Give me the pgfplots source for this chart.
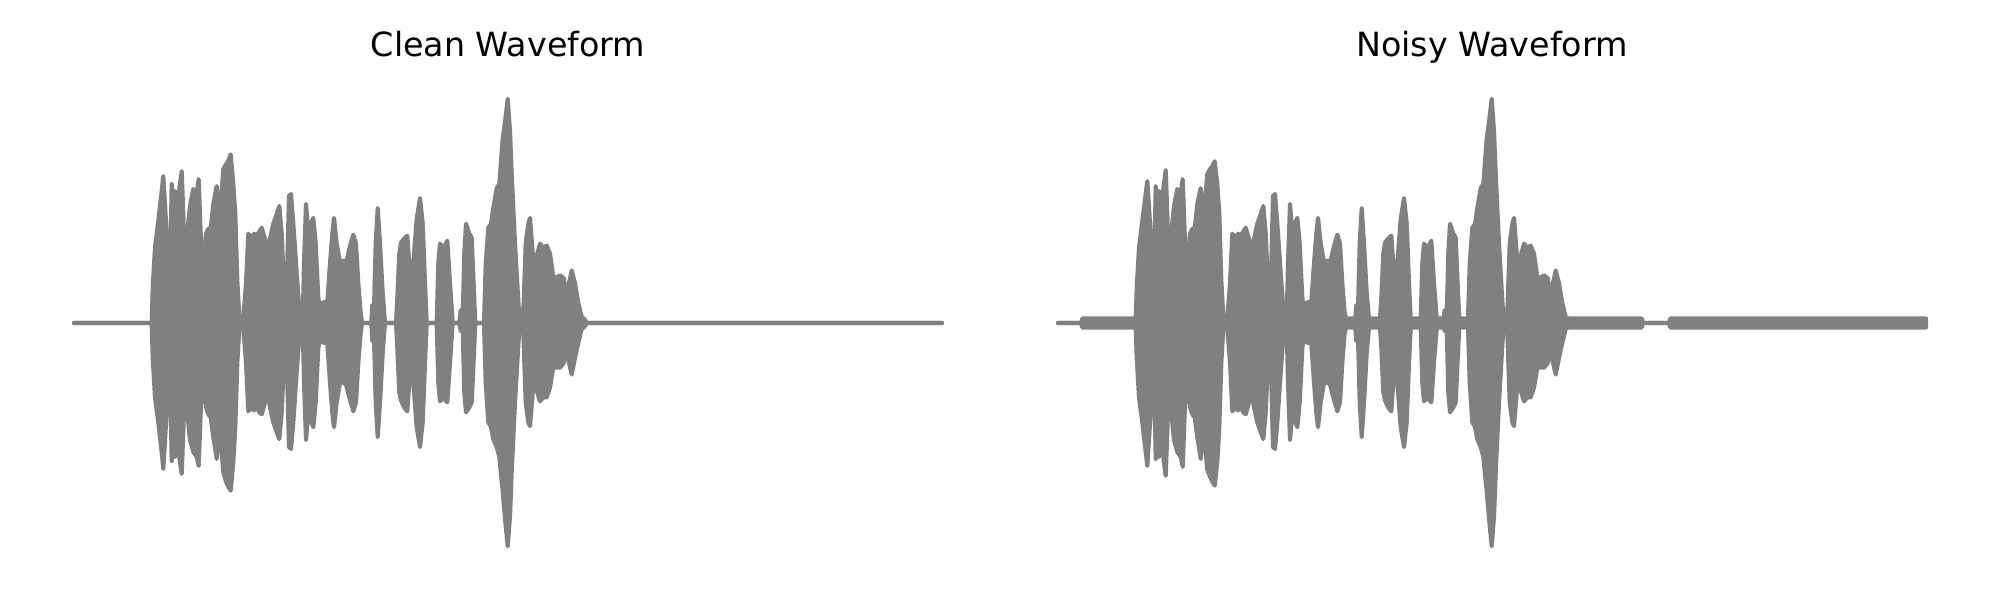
\documentclass[border=0pt]{standalone}
\usepackage{fontspec}
\setmainfont{DejaVu Sans}
\usepackage{pgfplots}
\pgfplotsset{compat=1.18}
\definecolor{wgray}{HTML}{808080}
\pgfplotsset{
  wave/.style={
    scale only axis, width=673.92pt, height=360pt,
    xmin=-34, xmax=902, ymin=-252, ymax=252,
    axis lines=none, ticks=none, clip=false,
    anchor=south west,
    every axis title/.style={at={(0.5,1)}, anchor=base, yshift=11.52pt,
      font=\fontsize{24}{28}\selectfont},
  },
  env/.style={draw=wgray, fill=wgray, line width=3pt, line join=round, line cap=round, mark=none},
}
\begin{document}
\begin{tikzpicture}
\path[use as bounding box] (0,0) rectangle (1440pt,432pt);
\begin{axis}[wave, at={(28.8pt,19.44pt)}, title={Clean Waveform}]
% upper envelope
\addplot[env] coordinates {
(0,0) (77.7,0) (78.7,35) (81,76) (84.3,103) (87.7,133) (89.3,148) (92.7,90) (96,43) (97.7,140) (99.3,115) (101,133) (103.3,125) (105.3,135) (107.7,153) (109.3,110) (111,56) (112.7,85) (116,118) (119.3,135) (122.7,130) (124.7,145) (126.7,90) (129.3,43) (132,90) (134.3,95) (136.7,95) (139.3,120) (142.7,138) (145,110) (146.7,120) (149.3,155) (152,160) (154.3,163) (156.7,170) (159.3,140) (161.3,110) (163.3,43) (165.3,6) (166.7,0) (169.3,5) (172,40) (174.3,90) (177.7,85) (180,90) (182.7,88) (185.3,92) (187.7,96) (191,85) (193.7,70) (196,85) (199.3,100) (202.7,110) (205.3,118) (207.7,90) (210,36) (212.7,36) (215,128) (217,130) (219.3,100) (222.7,50) (226,5) (228.7,0) (230,60) (232,120) (234.3,90) (236.7,100) (239.3,106) (241.7,80) (244.3,25) (246.7,14) (249.3,21) (253.3,21) (256,60) (258.3,90) (260,106) (262.7,80) (266,61) (269.3,63) (272,60) (275.3,75) (279.3,89) (282,80) (284.3,40) (286.7,10) (288,0) (297.3,0) (298.3,18) (300,15) (301.7,80) (303.7,116) (306,80) (308.7,30) (311,0) (322,0) (323.3,25) (325.3,70) (327,81) (330,85) (333.3,88) (335.3,60) (336.7,25) (339.3,60) (342.7,105) (346,126) (348.7,100) (351,40) (352.7,0) (362.7,0) (364.3,60) (366,80) (369.3,75) (373.3,83) (376,40) (378.7,0) (385.3,0) (386.7,13) (388.7,5) (390.3,70) (392,100) (395.3,90) (397.7,86) (400,30) (401.3,0) (410,0) (411.7,60) (414.3,96) (417,100) (419.3,116) (422.7,136) (425.3,140) (428.7,186) (431.3,205) (433.7,226) (436,193) (437.7,150) (441,80) (443.3,40) (445.3,5) (447,13) (449.3,10) (451.7,80) (454.3,100) (456,106) (458.7,70) (461,56) (463.3,70) (466,80) (469.3,76) (472.7,78) (476,70) (479.3,46) (482.7,46) (486,48) (490,45) (492.7,16) (495,40) (497.7,53) (501,40) (504.3,20) (507.7,6) (510.3,4) (512.7,0) (868,0)
} \closedcycle;
% lower envelope
\addplot[env] coordinates {
(0,0) (77.7,0) (78.7,-35) (81,-75) (84.3,-100) (87.7,-130) (89.3,-147) (92.7,-90) (96,-44) (97.7,-139) (99.3,-110) (101,-135) (103.3,-125) (105.3,-135) (107.7,-152) (109.3,-110) (111,-57) (112.7,-85) (116,-118) (119.3,-130) (122.7,-135) (124.7,-144) (126.7,-90) (129.3,-40) (132,-85) (134.3,-92) (136.7,-95) (139.3,-115) (142.7,-137) (145,-105) (146.7,-120) (149.3,-150) (152,-160) (154.3,-165) (156.7,-169) (159.3,-140) (161.3,-105) (163.3,-40) (165.3,-6) (166.7,0) (169.3,-5) (172,-40) (174.3,-89) (177.7,-85) (180,-88) (182.7,-85) (185.3,-90) (187.7,-92) (191,-80) (193.7,-70) (196,-85) (199.3,-100) (202.7,-110) (205.3,-117) (207.7,-90) (210,-36) (212.7,-36) (215,-125) (217,-127) (219.3,-100) (222.7,-50) (226,-5) (228.7,0) (230,-60) (232,-118) (234.3,-90) (236.7,-98) (239.3,-105) (241.7,-80) (244.3,-25) (246.7,-14) (249.3,-20) (253.3,-20) (256,-60) (258.3,-90) (260,-105) (262.7,-80) (266,-60) (269.3,-60) (272,-62) (275.3,-75) (279.3,-89) (282,-80) (284.3,-40) (286.7,-10) (288,0) (297.3,0) (298.3,-18) (300,-15) (301.7,-80) (303.7,-115) (306,-80) (308.7,-30) (311,0) (322,0) (323.3,-25) (325.3,-70) (327,-78) (330,-85) (333.3,-89) (335.3,-60) (336.7,-25) (339.3,-60) (342.7,-105) (346,-125) (348.7,-100) (351,-40) (352.7,0) (362.7,0) (364.3,-60) (366,-79) (369.3,-75) (373.3,-80) (376,-40) (378.7,0) (385.3,0) (386.7,-8) (388.7,-5) (390.3,-70) (392,-90) (395.3,-85) (397.7,-80) (400,-30) (401.3,0) (410,0) (411.7,-60) (414.3,-100) (417,-105) (419.3,-117) (422.7,-125) (425.3,-135) (428.7,-170) (431.3,-200) (433.7,-225) (436,-195) (437.7,-150) (441,-80) (443.3,-40) (445.3,-5) (447,-10) (449.3,-10) (451.7,-80) (454.3,-100) (456,-104) (458.7,-70) (461,-56) (463.3,-70) (466,-79) (469.3,-75) (472.7,-75) (476,-65) (479.3,-45) (482.7,-45) (486,-45) (490,-40) (492.7,-16) (495,-40) (497.7,-52) (501,-35) (504.3,-20) (507.7,-6) (510.3,-4) (512.7,0) (868,0)
} \closedcycle;
\end{axis}
\begin{axis}[wave, at={(737.28pt,19.44pt)}, title={Noisy Waveform}]
% upper envelope
\addplot[env] coordinates {
(0,0) (23.5,0) (24,4.5) (77.7,4.5) (78.7,35) (81,76) (84.3,103) (87.7,130) (89.3,143) (92.7,90) (96,43) (97.7,138) (99.3,115) (101,133) (103.3,125) (105.3,135) (107.7,154) (109.3,110) (111,56) (112.7,85) (116,118) (119.3,135) (122.7,130) (124.7,145) (126.7,90) (129.3,43) (132,90) (134.3,95) (136.7,95) (139.3,120) (142.7,136) (145,110) (146.7,120) (149.3,150) (152,155) (154.3,158) (156.7,163) (159.3,140) (161.3,110) (163.3,43) (165.3,6) (166.7,4.5) (169.3,5) (172,40) (174.3,90) (177.7,85) (180,90) (182.7,88) (185.3,92) (187.7,96) (191,85) (193.7,70) (196,85) (199.3,100) (202.7,110) (205.3,118) (207.7,90) (210,36) (212.7,36) (215,128) (217,130) (219.3,100) (222.7,50) (226,5) (228.7,4.5) (230,60) (232,120) (234.3,90) (236.7,100) (239.3,106) (241.7,80) (244.3,25) (246.7,14) (249.3,21) (253.3,21) (256,60) (258.3,90) (260,106) (262.7,80) (266,61) (269.3,63) (272,60) (275.3,75) (279.3,89) (282,80) (284.3,40) (286.7,10) (288,4.5) (297.3,4.5) (298.3,18) (300,15) (301.7,80) (303.7,116) (306,80) (308.7,30) (311,4.5) (322,4.5) (323.3,25) (325.3,70) (327,81) (330,85) (333.3,88) (335.3,60) (336.7,25) (339.3,60) (342.7,105) (346,126) (348.7,100) (351,40) (352.7,4.5) (362.7,4.5) (364.3,60) (366,80) (369.3,75) (373.3,83) (376,40) (378.7,4.5) (385.3,4.5) (386.7,13) (388.7,5) (390.3,70) (392,100) (395.3,90) (397.7,86) (400,30) (401.3,4.5) (410,4.5) (411.7,60) (414.3,96) (417,100) (419.3,116) (422.7,136) (425.3,140) (428.7,186) (431.3,205) (433.7,226) (436,193) (437.7,150) (441,80) (443.3,40) (445.3,5) (447,13) (449.3,10) (451.7,80) (454.3,100) (456,106) (458.7,70) (461,56) (463.3,70) (466,80) (469.3,76) (472.7,78) (476,70) (479.3,46) (482.7,46) (486,48) (490,45) (492.7,16) (495,40) (497.7,53) (501,40) (504.3,20) (507.7,6) (510.3,4.5) (512.7,4.5) (584,4.5) (584.5,0) (611.5,0) (612,4.5) (868,4.5)
} \closedcycle;
% lower envelope
\addplot[env] coordinates {
(0,0) (23.5,0) (24,-4.5) (77.7,-4.5) (78.7,-35) (81,-75) (84.3,-100) (87.7,-130) (89.3,-144) (92.7,-90) (96,-44) (97.7,-137) (99.3,-110) (101,-135) (103.3,-125) (105.3,-135) (107.7,-154) (109.3,-110) (111,-57) (112.7,-85) (116,-118) (119.3,-130) (122.7,-135) (124.7,-145) (126.7,-90) (129.3,-40) (132,-85) (134.3,-92) (136.7,-95) (139.3,-115) (142.7,-137) (145,-105) (146.7,-120) (149.3,-148) (152,-155) (154.3,-160) (156.7,-164) (159.3,-140) (161.3,-105) (163.3,-40) (165.3,-6) (166.7,-4.5) (169.3,-5) (172,-40) (174.3,-89) (177.7,-85) (180,-88) (182.7,-85) (185.3,-90) (187.7,-92) (191,-80) (193.7,-70) (196,-85) (199.3,-100) (202.7,-110) (205.3,-117) (207.7,-90) (210,-36) (212.7,-36) (215,-125) (217,-127) (219.3,-100) (222.7,-50) (226,-5) (228.7,-4.5) (230,-60) (232,-118) (234.3,-90) (236.7,-98) (239.3,-105) (241.7,-80) (244.3,-25) (246.7,-14) (249.3,-20) (253.3,-20) (256,-60) (258.3,-90) (260,-105) (262.7,-80) (266,-60) (269.3,-60) (272,-62) (275.3,-75) (279.3,-89) (282,-80) (284.3,-40) (286.7,-10) (288,-4.5) (297.3,-4.5) (298.3,-18) (300,-15) (301.7,-80) (303.7,-115) (306,-80) (308.7,-30) (311,-4.5) (322,-4.5) (323.3,-25) (325.3,-70) (327,-78) (330,-85) (333.3,-89) (335.3,-60) (336.7,-25) (339.3,-60) (342.7,-105) (346,-125) (348.7,-100) (351,-40) (352.7,-4.5) (362.7,-4.5) (364.3,-60) (366,-79) (369.3,-75) (373.3,-80) (376,-40) (378.7,-4.5) (385.3,-4.5) (386.7,-8) (388.7,-5) (390.3,-70) (392,-90) (395.3,-85) (397.7,-80) (400,-30) (401.3,-4.5) (410,-4.5) (411.7,-60) (414.3,-100) (417,-105) (419.3,-117) (422.7,-125) (425.3,-135) (428.7,-170) (431.3,-200) (433.7,-225) (436,-195) (437.7,-150) (441,-80) (443.3,-40) (445.3,-5) (447,-10) (449.3,-10) (451.7,-80) (454.3,-100) (456,-104) (458.7,-70) (461,-56) (463.3,-70) (466,-79) (469.3,-75) (472.7,-75) (476,-65) (479.3,-45) (482.7,-45) (486,-45) (490,-40) (492.7,-16) (495,-40) (497.7,-52) (501,-35) (504.3,-20) (507.7,-6) (510.3,-4.5) (512.7,-4.5) (584,-4.5) (584.5,0) (611.5,0) (612,-4.5) (868,-4.5)
} \closedcycle;
\end{axis}
\end{tikzpicture}
\end{document}
